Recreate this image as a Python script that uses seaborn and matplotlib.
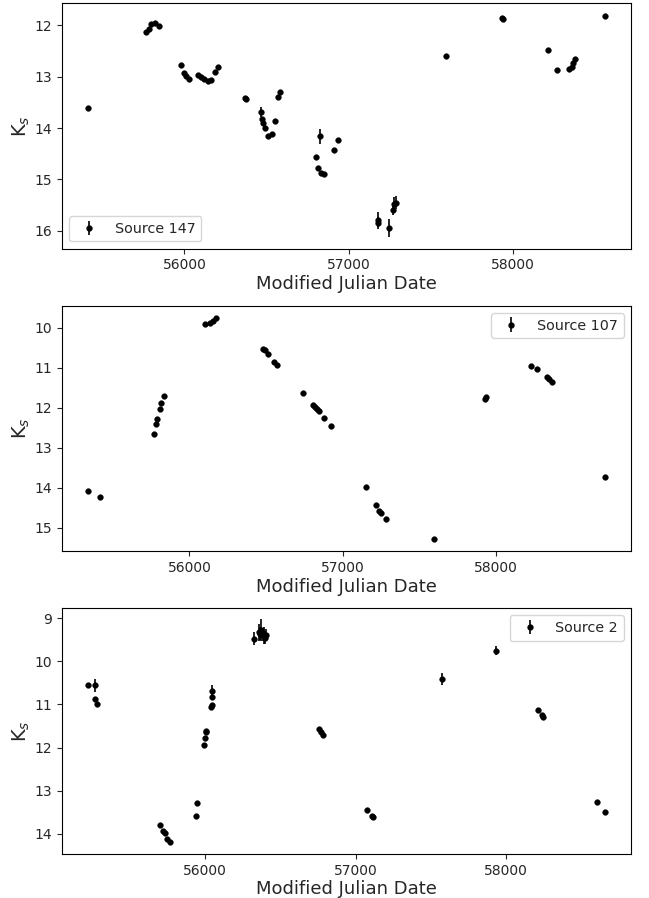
import numpy as np
import seaborn as sns
import matplotlib
matplotlib.use("Agg")
import matplotlib.pyplot as plt
from matplotlib.ticker import MultipleLocator

# Source 147 light curve
mjd_147 = [55412, 55764, 55782, 55794, 55818, 55842, 55976, 55994, 56012, 56030,
           56085, 56103, 56121, 56145, 56164, 56188, 56206, 56368, 56374, 56467,
           56473, 56479, 56491, 56509, 56533, 56552, 56570, 56582, 56800, 56812,
           56824, 56830, 56848, 56909, 56933, 57176, 57178, 57242, 57267, 57273,
           57285, 57588, 57931, 57935, 58212, 58267, 58339, 58358, 58364, 58376,
           58558]
ks_147 = [13.60, 12.12, 12.06, 11.98, 11.96, 12.02, 12.78, 12.92, 12.99, 13.05,
          12.97, 13.01, 13.05, 13.09, 13.07, 12.90, 12.80, 13.42, 13.44, 13.68,
          13.83, 13.91, 13.99, 14.16, 14.12, 13.87, 13.40, 13.29, 14.57, 14.77,
          14.16, 14.87, 14.89, 14.42, 14.24, 15.78, 15.85, 15.95, 15.60, 15.47,
          15.45, 12.60, 11.86, 11.87, 12.47, 12.86, 12.84, 12.80, 12.73, 12.65,
          11.81]
err_147 = [0.03, 0.03, 0.03, 0.03, 0.03, 0.03, 0.03, 0.03, 0.03, 0.03,
           0.03, 0.03, 0.03, 0.03, 0.03, 0.03, 0.03, 0.03, 0.03, 0.10,
           0.03, 0.03, 0.03, 0.03, 0.03, 0.03, 0.03, 0.03, 0.03, 0.03,
           0.15, 0.03, 0.03, 0.03, 0.03, 0.15, 0.12, 0.18, 0.10, 0.12,
           0.12, 0.03, 0.03, 0.03, 0.03, 0.03, 0.03, 0.03, 0.03, 0.03,
           0.03]

# Source 107 light curve
mjd_107 = [55337, 55415, 55767, 55780, 55789, 55806, 55817, 55832, 56100, 56137,
           56154, 56176, 56477, 56492, 56514, 56553, 56571, 56738, 56807, 56818,
           56831, 56846, 56879, 56922, 57151, 57216, 57238, 57249, 57281, 57593,
           57929, 57936, 58228, 58267, 58336, 58349, 58365, 58711]
ks_107 = [14.09, 14.22, 12.67, 12.42, 12.28, 12.03, 11.88, 11.72, 9.90, 9.88,
          9.83, 9.76, 10.53, 10.57, 10.65, 10.86, 10.93, 11.63, 11.94, 11.98,
          12.04, 12.09, 12.25, 12.47, 13.98, 14.44, 14.57, 14.63, 14.79, 15.28,
          11.78, 11.74, 10.96, 11.04, 11.23, 11.29, 11.36, 13.72]
err_107 = [0.03] * len(mjd_107)

# Source 2 light curve
mjd_2 = [55223, 55268, 55268, 55281, 55699, 55721, 55732, 55750, 55765, 55940,
         55946, 55991, 55998, 56005, 56009, 56042, 56046, 56046, 56046, 56323,
         56361, 56365, 56372, 56383, 56394, 56400, 56405, 56754, 56769, 56785,
         57076, 57109, 57116, 57571, 57929, 58213, 58235, 58246, 58599, 58655]
ks_2 = [10.56, 10.56, 10.88, 10.98, 13.80, 13.94, 13.99, 14.13, 14.18, 13.58,
        13.29, 11.94, 11.79, 11.65, 11.61, 11.06, 11.02, 10.83, 10.69, 9.48,
        9.33, 9.36, 9.28, 9.38, 9.41, 9.45, 9.39, 11.56, 11.63, 11.71,
        13.46, 13.59, 13.61, 10.41, 9.75, 11.13, 11.25, 11.30, 13.27, 13.49]
err_2 = [0.03, 0.15, 0.03, 0.03, 0.03, 0.03, 0.03, 0.03, 0.03, 0.03,
         0.03, 0.03, 0.03, 0.03, 0.03, 0.03, 0.03, 0.05, 0.15, 0.15,
         0.20, 0.15, 0.25, 0.15, 0.20, 0.15, 0.15, 0.03, 0.03, 0.03,
         0.03, 0.03, 0.03, 0.15, 0.10, 0.03, 0.03, 0.03, 0.03, 0.03]

sources = [("Source 147", mjd_147, ks_147, err_147, "lower left"),
           ("Source 107", mjd_107, ks_107, err_107, "upper right"),
           ("Source 2", mjd_2, ks_2, err_2, "upper right")]

sns.set_style("ticks")
plt.rcParams['font.family'] = ['DejaVu Sans']

fig, axes = plt.subplots(3, 1, figsize=(6.49, 8.98), dpi=100)
fig.subplots_adjust(left=0.0955, right=0.972, top=0.9967, bottom=0.049, hspace=0.232)

for ax, (name, mjd, ks, err, loc) in zip(axes, sources):
    # error bars underneath, seaborn for the points
    ax.errorbar(mjd, ks, yerr=err, fmt='none', ecolor='k', elinewidth=1.2)
    sns.scatterplot(x=mjd, y=ks, color='k', s=17, edgecolor='k', linewidth=0.3, ax=ax, zorder=3)
    # proxy for the legend so it looks like an errorbar entry
    ax.errorbar([], [], yerr=[], fmt='o', color='k', ms=3.5, elinewidth=1.2, label=name)
    ax.invert_yaxis()
    ax.xaxis.set_major_locator(MultipleLocator(1000))
    ax.set_xlabel("Modified Julian Date", fontsize=13, labelpad=2)
    ax.set_ylabel("K$_s$", fontsize=14, labelpad=2)
    ax.tick_params(labelsize=10, direction='out', length=3.5, width=0.8)
    for sp in ax.spines.values():
        sp.set_color('k')
        sp.set_linewidth(0.8)
    ax.legend(loc=loc, fontsize=10.3, frameon=True)

fig.savefig("out.png", dpi=100)
